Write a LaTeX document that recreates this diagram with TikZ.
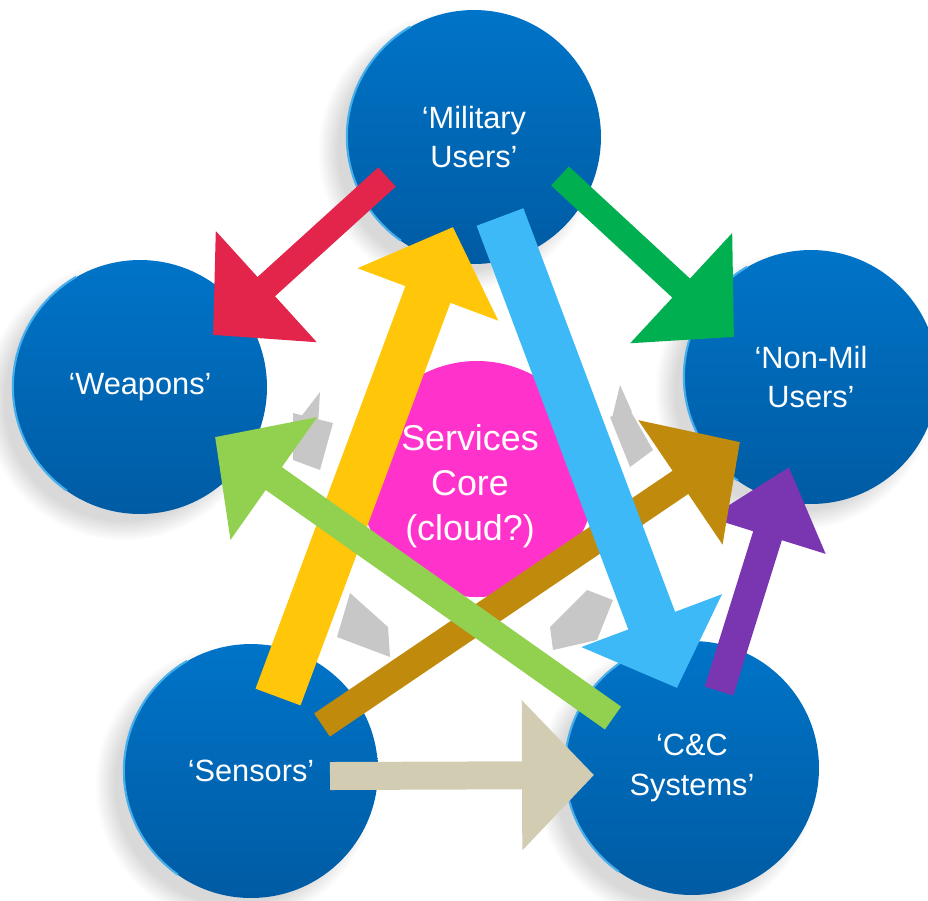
\documentclass[tikz,border=0pt]{standalone}
\usepackage{fontspec}
\setmainfont{Liberation Sans}
\usepackage{tikz}
\usetikzlibrary{calc}
\usetikzlibrary{arrows.meta}
\usetikzlibrary{shadows}
\definecolor{hubtop}{HTML}{0074C8}
\definecolor{hubbot}{HTML}{005BA3}
\definecolor{hubrim}{HTML}{45AEEB}
\definecolor{corepink}{HTML}{FF33CC}
\definecolor{redarr}{HTML}{E3254C}
\definecolor{greenarr}{HTML}{00B050}
\definecolor{yellowarr}{HTML}{FFC60A}
\definecolor{bluearr}{HTML}{3DB9F7}
\definecolor{purplearr}{HTML}{7A35B0}
\definecolor{goldarr}{HTML}{C08A0C}
\definecolor{limearr}{HTML}{92D050}
\definecolor{beigearr}{HTML}{D2CDB2}
\tikzstyle{hub} = [circle, minimum size = 5.08cm, inner sep = 0, align = center, text = white, font = \fontsize{17.5}{22.7}\selectfont, top color = hubtop, bottom color = hubbot, circular drop shadow = {shadow xshift = -0.3cm, shadow yshift = -0.25cm, opacity = 0.3}]
\tikzstyle{rim} = [draw = hubrim, line width = 1.2pt]
\tikzstyle{flow} = [line width = 0.56cm, -{Triangle[width = 2.92cm, length = 1.44cm]}]
\tikzstyle{ghost} = [fill = black!22, draw = none]

\begin{document}
\begin{tikzpicture}[x = 0.02cm, y = -0.02cm]
\useasboundingbox (0, 0) rectangle (928, 900);
\node [hub] (mil) at (474, 137) {‘Military\\Users’};
\node [hub] (wpn) at (140, 387) {‘Weapons’};
\node [hub] (civ) at (811, 377) {‘Non-Mil\\Users’};
\node [hub] (sen) at (251, 771) {‘Sensors’};
\node [hub] (cc) at (692, 768) {‘C\&C\\Systems’};
\foreach \n in {mil, wpn, civ, sen, cc}
  \draw [rim] (\n.120) arc (120:235:2.54cm);
\fill [corepink] (477, 479) circle (118);
\node [align = center, text = white, font = \fontsize{20.4}{25.5}\selectfont] (core) at (470, 486) {Services\\Core\\(cloud?)};
\fill [ghost] (293, 413) -- (333, 423) -- (320, 470) -- (293, 460) -- cycle;
\fill [ghost] (300, 418) -- (320, 392) -- (318, 425) -- cycle;
\fill [ghost] (350, 593) -- (388, 627) -- (390, 657) -- (337, 637) -- cycle;
\fill [ghost] (587, 590) -- (613, 600) -- (597, 640) -- (553, 650) -- (550, 627) -- cycle;
\fill [ghost] (610, 417) -- (630, 410) -- (653, 450) -- (630, 467) -- cycle;
\fill [ghost] (612, 418) -- (620, 385) -- (632, 412) -- cycle;
\coordinate (mw1) at (387, 177);
\coordinate (mw2) at (213, 335);
\coordinate (mc1) at (560, 176);
\coordinate (mc2) at (734, 337);
\coordinate (sm1) at (278, 697);
\coordinate (sm2) at (453, 227);
\coordinate (mk1) at (500, 217);
\coordinate (mk2) at (677, 688);
\coordinate (kc1) at (719, 691);
\coordinate (kc2) at (789, 467);
\coordinate (sc1) at (322, 725);
\coordinate (sc2) at (740, 442);
\coordinate (kw1) at (613, 718);
\coordinate (kw2) at (215, 437);
\coordinate (sk1) at (330, 776);
\coordinate (sk2) at (594, 775);
\draw [flow, draw = purplearr, line width = 0.6cm, -{Triangle[width = 2.34cm, length = 1.44cm]}] (kc1) -- (kc2);
\draw [flow, draw = goldarr] (sc1) -- (sc2);
\draw [flow, draw = yellowarr, line width = 0.96cm] (sm1) -- (sm2);
\draw [flow, draw = limearr] (kw1) -- (kw2);
\draw [flow, draw = bluearr, line width = 1cm] (mk1) -- (mk2);
\draw [flow, draw = redarr, line width = 0.52cm] (mw1) -- (mw2);
\draw [flow, draw = greenarr, line width = 0.52cm] (mc1) -- (mc2);
\draw [flow, draw = beigearr] (sk1) -- (sk2);
\end{tikzpicture}
\end{document}
